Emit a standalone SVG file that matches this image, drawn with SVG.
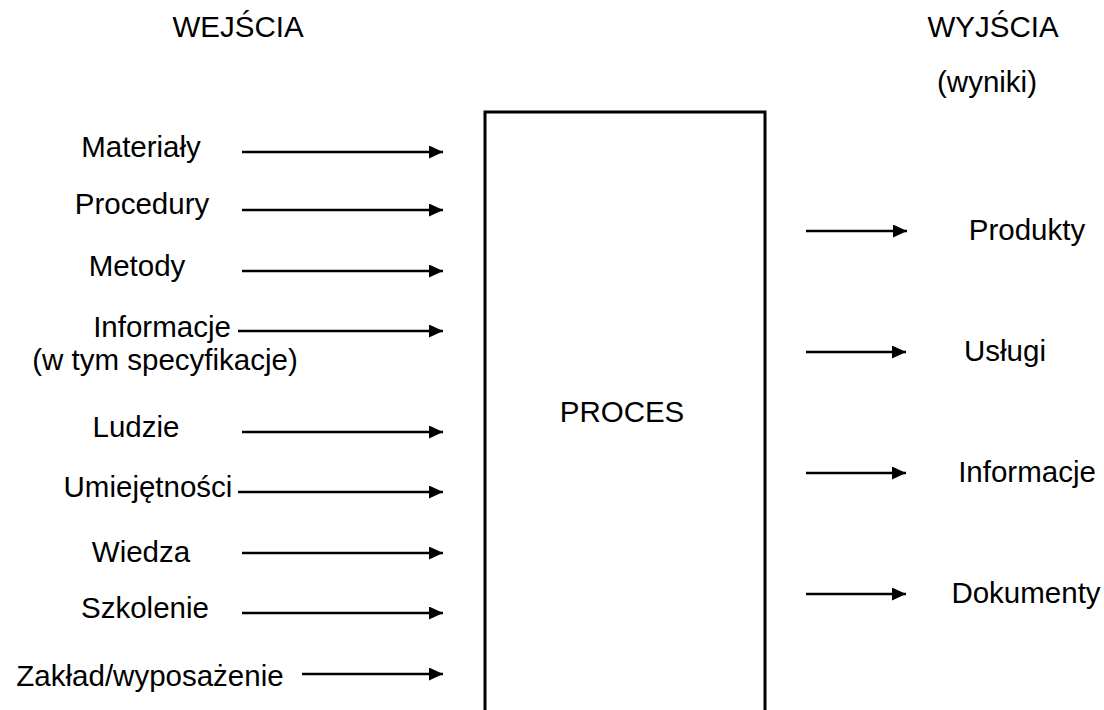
<svg xmlns="http://www.w3.org/2000/svg" width="1104" height="710" viewBox="0 0 1104 710">
<style>
text{font-family:"Liberation Sans",Arial,sans-serif;font-size:29.5px;fill:#000;text-anchor:middle}
.c{stroke:#000;stroke-width:2.4;fill:none}
</style>
<defs>
<marker id="ah" markerWidth="14" markerHeight="13" refX="14" refY="6.5" orient="auto" markerUnits="userSpaceOnUse">
<path d="M0,0 L14,6.5 L0,13 Z" fill="#000"/>
</marker>
</defs>
<rect width="1104" height="710" fill="#fff"/>
<g id="headers">
<text x="238" y="37">WEJŚCIA</text>
<text x="993" y="37">WYJŚCIA</text>
<text x="987" y="92">(wyniki)</text>
</g>
<g id="proces">
<path d="M485,712 L485,112 L765,112 L765,712" stroke="#000" stroke-width="3" fill="none"/>
<text x="622" y="422">PROCES</text>
</g>
<g id="inputs">
<g id="in-materialy"><text x="141" y="157">Materiały</text></g>
<g id="in-procedury"><text x="142" y="214">Procedury</text></g>
<g id="in-metody"><text x="137" y="276">Metody</text></g>
<g id="in-informacje"><text x="162" y="337">Informacje</text><text x="165" y="370">(w tym specyfikacje)</text></g>
<g id="in-ludzie"><text x="136" y="437">Ludzie</text></g>
<g id="in-umiejetnosci"><text x="148" y="497">Umiejętności</text></g>
<g id="in-wiedza"><text x="141" y="562">Wiedza</text></g>
<g id="in-szkolenie"><text x="145" y="618">Szkolenie</text></g>
<g id="in-zaklad"><text x="150" y="686">Zakład/wyposażenie</text></g>
</g>
<g id="outputs">
<g id="out-produkty"><text x="1027" y="240">Produkty</text></g>
<g id="out-uslugi"><text x="1005" y="361">Usługi</text></g>
<g id="out-informacje"><text x="1027" y="482">Informacje</text></g>
<g id="out-dokumenty"><text x="1026" y="603">Dokumenty</text></g>
</g>
<g id="connectors">
<line class="c" x1="242" y1="152" x2="443" y2="152" marker-end="url(#ah)"/>
<line class="c" x1="242" y1="210" x2="443" y2="210" marker-end="url(#ah)"/>
<line class="c" x1="242" y1="271" x2="443" y2="271" marker-end="url(#ah)"/>
<line class="c" x1="238" y1="331" x2="443" y2="331" marker-end="url(#ah)"/>
<line class="c" x1="242" y1="432" x2="443" y2="432" marker-end="url(#ah)"/>
<line class="c" x1="238" y1="492" x2="443" y2="492" marker-end="url(#ah)"/>
<line class="c" x1="242" y1="553" x2="443" y2="553" marker-end="url(#ah)"/>
<line class="c" x1="242" y1="613" x2="443" y2="613" marker-end="url(#ah)"/>
<line class="c" x1="302" y1="674" x2="443" y2="674" marker-end="url(#ah)"/>
<line class="c" x1="806" y1="231" x2="907" y2="231" marker-end="url(#ah)"/>
<line class="c" x1="806" y1="352" x2="906" y2="352" marker-end="url(#ah)"/>
<line class="c" x1="806" y1="473" x2="906" y2="473" marker-end="url(#ah)"/>
<line class="c" x1="806" y1="594" x2="906" y2="594" marker-end="url(#ah)"/>
</g>
</svg>
